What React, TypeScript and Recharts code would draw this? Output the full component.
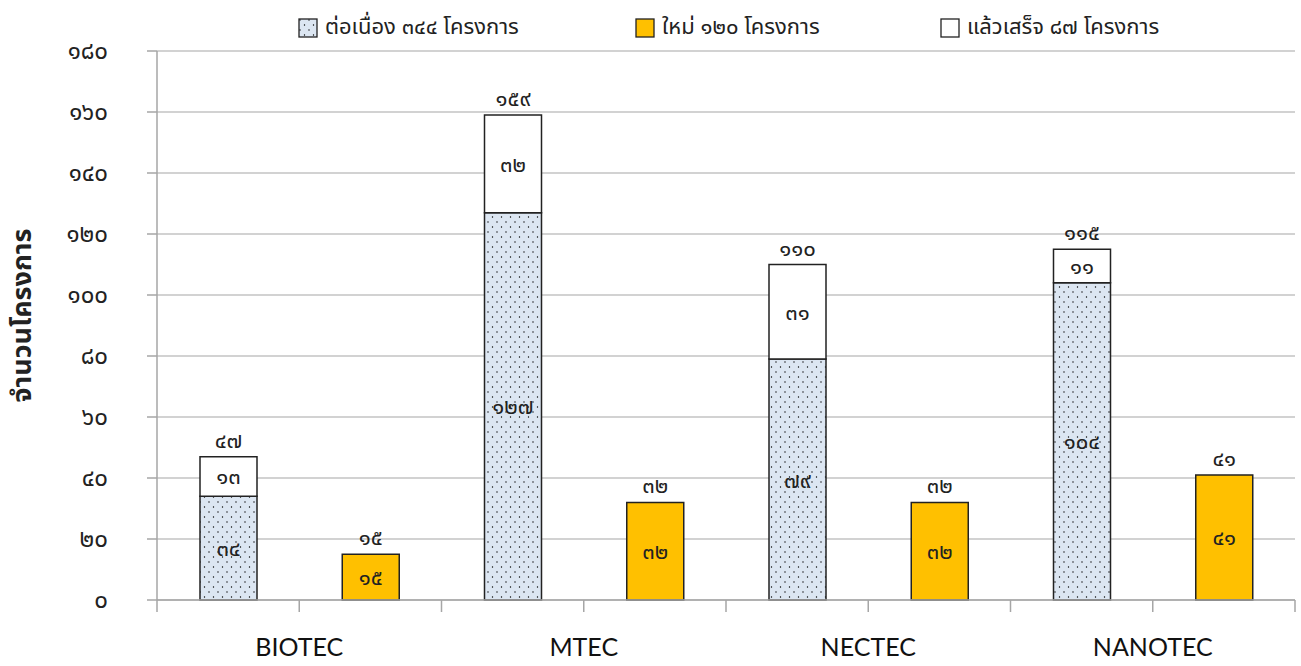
import React from 'react';
import {
  BarChart,
  Bar,
  XAxis,
  YAxis,
  CartesianGrid,
  Legend,
  LabelList,
} from 'recharts';

const categories = ['BIOTEC', 'MTEC', 'NECTEC', 'NANOTEC'];
const ongoing = [34, 127, 79, 104];
const completed = [13, 32, 31, 11];
const newProjects = [15, 32, 32, 41];
const yTicks = [0, 20, 40, 60, 80, 100, 120, 140, 160, 180];
const xTicks = [0, 1, 2, 3, 4, 5, 6, 7, 8];

const legendItems = [
  { key: 'ongoing', label: 'ต่อเนื่อง ๓๔๔ โครงการ', fill: 'url(#ld-ongoing)', left: 298 },
  { key: 'fresh', label: 'ใหม่ ๑๒๐ โครงการ', fill: '#FFC000', left: 635 },
  { key: 'completed', label: 'แล้วเสร็จ ๘๗ โครงการ', fill: '#FFFFFF', left: 940 },
];

const THAI = '๐๑๒๓๔๕๖๗๘๙';
const toThai = (n: number) => String(n).replace(/\d/g, d => THAI[+d]);

const FONT = "Tahoma, 'Noto Sans Thai', 'Noto Sans', 'DejaVu Sans', sans-serif";
const GRID = '#a6a6a6';

// two slots per centre: stacked (ongoing + completed) then the new projects bar
const rows = categories.flatMap((c, i) => [
  { x: i * 2 + 0.5, ongoing: ongoing[i], completed: completed[i], fresh: 0, total: ongoing[i] + completed[i] },
  { x: i * 2 + 1.5, ongoing: 0, completed: 0, fresh: newProjects[i], total: newProjects[i] },
]);

const num = (v: any) => (Array.isArray(v) ? v[1] - v[0] : Number(v));

const XTick = ({ x, y, payload }: any) => {
  const v = payload.value;
  if (v % 2 !== 1) return null;
  return (
    <text x={x} y={y + 42} textAnchor="middle" fontSize={25} fontFamily="Lato, 'Open Sans', sans-serif" fill="#111">
      {categories[(v - 1) / 2]}
    </text>
  );
};

const YTick = ({ x, y, payload }: any) => (
  <text x={x - 37} y={y + 8} textAnchor="end" fontSize={24} fontFamily={FONT} fill="#222">
    {toThai(payload.value)}
  </text>
);

const CenterLabel = (props: any) => {
  const { x, y, width, height, value } = props;
  const v = num(value);
  if (!v || !height) return null;
  return (
    <text x={x + width / 2} y={y + height / 2 + 8} textAnchor="middle" fontSize={22} fontFamily={FONT} fill="#222">
      {toThai(v)}
    </text>
  );
};

const TopLabel = (props: any) => {
  const { x, y, width, height, value } = props;
  const v = Array.isArray(value) ? value[1] : Number(value);
  if (!v || !height) return null;
  return (
    <text x={x + width / 2} y={y - 9} textAnchor="middle" fontSize={22} fontFamily={FONT} fill="#222">
      {toThai(v)}
    </text>
  );
};

const LegendContent = () => (
  <div style={{ position: 'relative', height: 43, width: 1301, fontFamily: FONT, fontSize: 22, color: '#222' }}>
    {legendItems.map(it => (
      <div key={it.key} style={{ position: 'absolute', left: it.left, top: 3, display: 'flex', alignItems: 'center', whiteSpace: 'nowrap' }}>
        <svg width={20} height={20} style={{ marginRight: 7 }}>
          <defs>
            <pattern id="ld-ongoing" width={9} height={10} patternUnits="userSpaceOnUse">
              <rect width={9} height={10} fill="#DCE6F2" />
              <circle cx={2} cy={2} r={0.7} fill="#000" />
              <circle cx={6.5} cy={7} r={0.7} fill="#000" />
            </pattern>
          </defs>
          <rect x={1} y={1} width={18} height={18} fill={it.fill} stroke="#222" strokeWidth={1.3} />
        </svg>
        <span>{it.label}</span>
      </div>
    ))}
  </div>
);

export default function App() {
  return (
    <div style={{ width: 1301, height: 666, position: 'relative', background: '#fff' }}>
      <style>{'body{margin:0;}'}</style>
      <BarChart
        width={1301}
        height={666}
        data={rows}
        margin={{ top: 8, right: 6, bottom: 0, left: 0 }}
      >
        <defs>
          <pattern id="dots" width={9} height={10} patternUnits="userSpaceOnUse">
            <rect width={9} height={10} fill="#DCE6F2" />
            <circle cx={2} cy={2} r={0.7} fill="#000" />
            <circle cx={6.5} cy={7} r={0.7} fill="#000" />
          </pattern>
        </defs>
        <Legend verticalAlign="top" align="left" content={<LegendContent />} wrapperStyle={{ left: 0, width: 1301 }} />
        <CartesianGrid vertical={false} stroke={GRID} strokeWidth={1.2} />
        <XAxis
          dataKey="x"
          type="number"
          domain={[0, 8]}
          ticks={xTicks}
          interval={0}
          height={66}
          tickSize={12}
          stroke={GRID}
          strokeWidth={1.5}
          tick={<XTick />}
          allowDataOverflow
        />
        <YAxis
          domain={[0, 180]}
          ticks={yTicks}
          interval={0}
          width={157}
          tickSize={10}
          stroke={GRID}
          strokeWidth={1.5}
          tick={<YTick />}
          label={{
            value: 'จำนวนโครงการ',
            angle: -90,
            position: 'insideLeft',
            dx: 16,
            dy: -10,
            style: { fontSize: 27, fontWeight: 700, fontFamily: FONT, fill: '#222', textAnchor: 'middle' },
          }}
        />
        <Bar dataKey="ongoing" stackId="a" barSize={57} fill="url(#dots)" stroke="#222" strokeWidth={1.5} isAnimationActive={false}>
          <LabelList dataKey="ongoing" content={<CenterLabel />} />
        </Bar>
        <Bar dataKey="completed" stackId="a" barSize={57} fill="#FFFFFF" stroke="#222" strokeWidth={1.5} isAnimationActive={false}>
          <LabelList dataKey="completed" content={<CenterLabel />} />
          <LabelList dataKey="total" content={<TopLabel />} />
        </Bar>
        <Bar dataKey="fresh" stackId="a" barSize={57} fill="#FFC000" stroke="#222" strokeWidth={1.5} isAnimationActive={false}>
          <LabelList dataKey="fresh" content={<CenterLabel />} />
          <LabelList dataKey="total" content={<TopLabel />} />
        </Bar>
      </BarChart>
    </div>
  );
}
